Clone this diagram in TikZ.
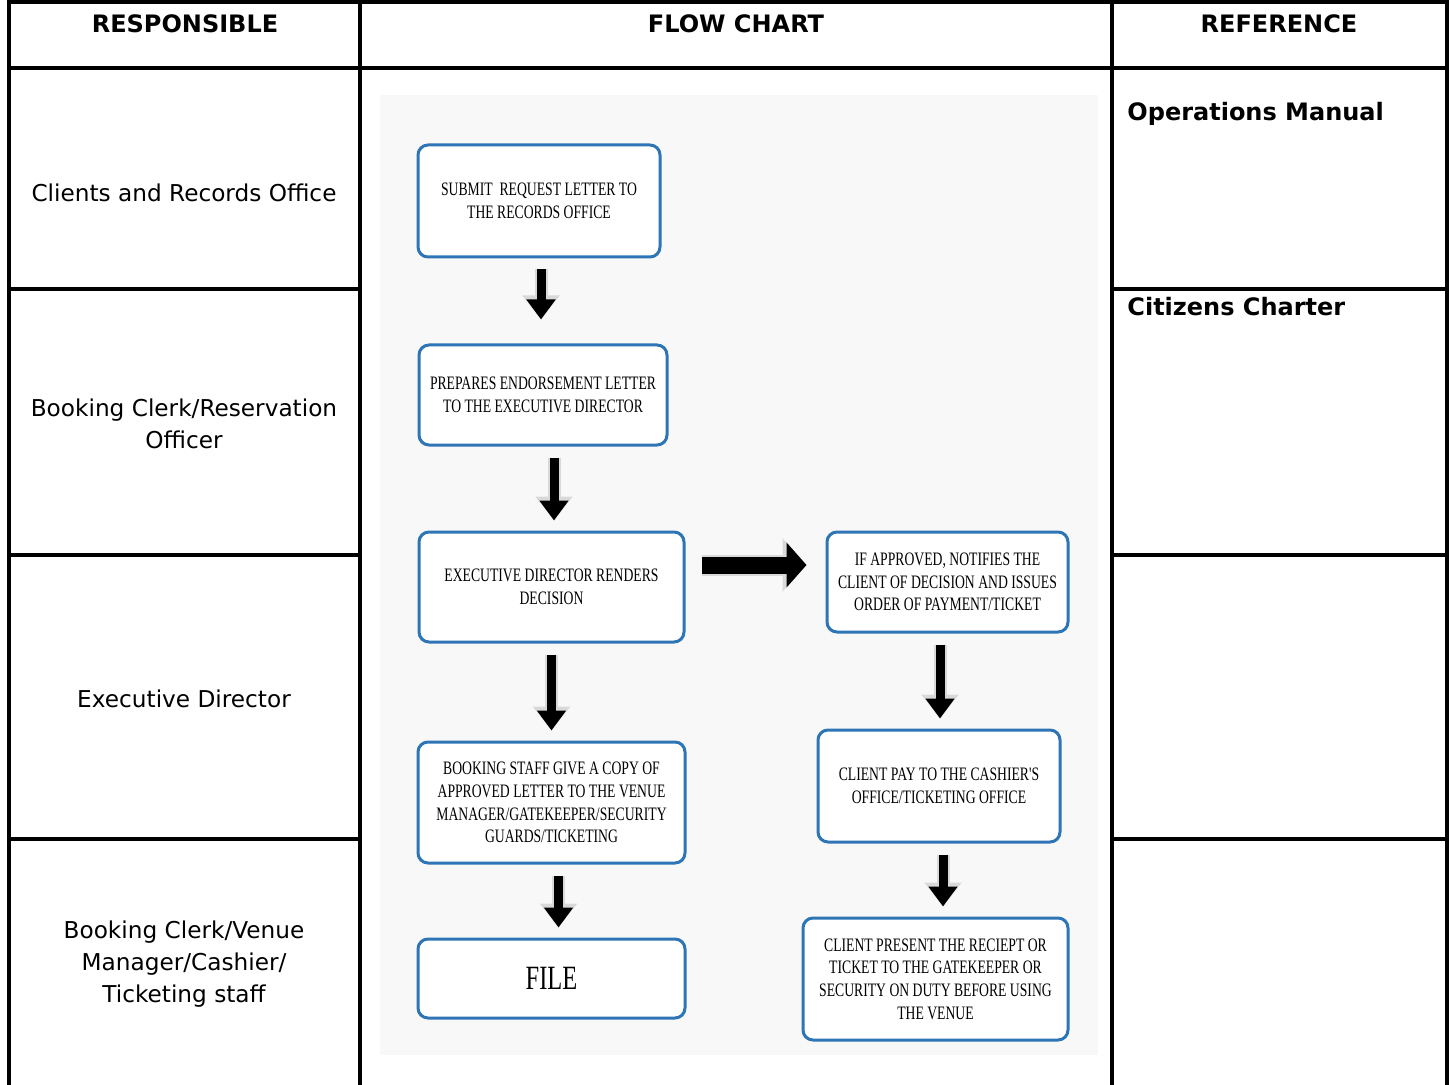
\documentclass[tikz,border=0pt]{standalone}
\usepackage{fontspec}
\setmainfont{DejaVu Sans}
\newfontfamily\boxfont[FakeStretch=0.72]{Liberation Serif}
\usetikzlibrary{arrows.meta}
\definecolor{boxblue}{HTML}{2E75B6}
\definecolor{chartbg}{HTML}{F8F8F8}

\begin{document}
\begin{tikzpicture}[x=0.5pt,y=-0.5pt,
  rule/.style={line width=1.6pt},
  headtext/.style={font=\fontsize{12}{14}\selectfont\bfseries},
  celltext/.style={align=center,font=\fontsize{11.6}{15.8}\selectfont},
  stepbox/.style={draw=boxblue,line width=1.5pt,rounded corners=5pt,fill=white,inner sep=0pt,align=center,font=\boxfont\fontsize{9.5}{11.3}\selectfont},
  downarrow/.style={line width=4.5pt,-{Triangle[length=10pt,width=14pt]},shorten <=5.5pt,shorten >=5pt,
    preaction={draw=gray!30,line width=6.5pt,-{Triangle[length=12pt,width=18pt]}}},
  rightarrow/.style={line width=8.5pt,-{Triangle[length=10pt,width=22pt]},shorten <=8pt,shorten >=9.5pt,
    preaction={draw=gray!30,line width=10.5pt,-{Triangle[length=12pt,width=26pt]}}}]
\useasboundingbox (0,0) rectangle (1450,1085);
%table
\draw[rule] (9,1085) -- (9,2) -- (1447,2) -- (1447,1085);
\draw[rule] (9,68) -- (1447,68);
\draw[rule] (360,2) -- (360,1085);
\draw[rule] (1112,2) -- (1112,1085);
\foreach \y in {289,555,839} {
  \draw[rule] (9,\y) -- (360,\y);
  \draw[rule] (1112,\y) -- (1447,\y);
}
\node[headtext] (resp) at (185,24) {RESPONSIBLE};
\node[headtext] (flow) at (736,24) {FLOW CHART};
\node[headtext] (ref) at (1279,24) {REFERENCE};
\node[celltext] (clients) at (184,193) {Clients and Records Office};
\node[celltext] (booking) at (184,424) {Booking Clerk/Reservation\\Officer};
\node[celltext] (execdir) at (184,699) {Executive Director};
\node[celltext] (venue) at (184,964) {Booking Clerk/Venue\\Manager/Cashier/\\Ticketing staff};
\node[headtext,anchor=base west,inner sep=0pt] (opsman) at (1127,121) {Operations Manual};
\node[headtext,anchor=base west,inner sep=0pt] (charter) at (1127,316) {Citizens Charter};
%flow chart
\fill[chartbg] (380,95) rectangle (1098,1055);
\node[stepbox,minimum width=121pt,minimum height=56pt] (submit) at (539,201) {SUBMIT\ \ REQUEST LETTER TO\\THE RECORDS OFFICE};
\node[stepbox,minimum width=124pt,minimum height=50pt] (endorse) at (543,395) {PREPARES ENDORSEMENT LETTER\\TO THE EXECUTIVE DIRECTOR};
\node[stepbox,minimum width=132.5pt,minimum height=55pt] (decide) at (551.5,587) {EXECUTIVE DIRECTOR RENDERS\\DECISION};
\node[stepbox,minimum width=120.5pt,minimum height=50pt] (notify) at (947.5,582) {IF APPROVED, NOTIFIES THE\\CLIENT OF DECISION AND ISSUES\\ORDER OF PAYMENT/TICKET};
\node[stepbox,minimum width=133.5pt,minimum height=60.5pt] (copy) at (551.5,802.5) {BOOKING STAFF GIVE A COPY OF\\APPROVED LETTER TO THE VENUE\\MANAGER/GATEKEEPER/SECURITY\\GUARDS/TICKETING};
\node[stepbox,minimum width=133.5pt,minimum height=39.5pt,font=\boxfont\fontsize{17}{20}\selectfont] (file) at (551.5,978.5) {FILE};
\node[stepbox,minimum width=121pt,minimum height=56pt] (pay) at (939,786) {CLIENT PAY TO THE CASHIER'S\\OFFICE/TICKETING OFFICE};
\node[stepbox,minimum width=132.5pt,minimum height=61pt] (present) at (935.5,979) {CLIENT PRESENT THE RECIEPT OR\\TICKET TO THE GATEKEEPER OR\\SECURITY ON DUTY BEFORE USING\\THE VENUE};
%arrows
\draw[downarrow,shorten >=12pt] ([xshift=1pt]submit.south) -- ([xshift=1pt]submit.south |- endorse.north);
\draw[downarrow] ([xshift=5.5pt]endorse.south) -- ([xshift=5.5pt]endorse.south |- decide.north);
\draw[downarrow] (decide.south) -- (decide.south |- copy.north);
\draw[downarrow] ([xshift=3.5pt]copy.south) -- ([xshift=3.5pt]copy.south |- file.north);
\draw[rightarrow] ([yshift=11pt]decide.east) -- ([yshift=11pt]decide.east -| notify.west);
\draw[downarrow] ([xshift=-3.75pt]notify.south) -- ([xshift=-3.75pt]notify.south |- pay.north);
\draw[downarrow] ([xshift=2pt]pay.south) -- ([xshift=2pt]pay.south |- present.north);
\end{tikzpicture}
\end{document}
